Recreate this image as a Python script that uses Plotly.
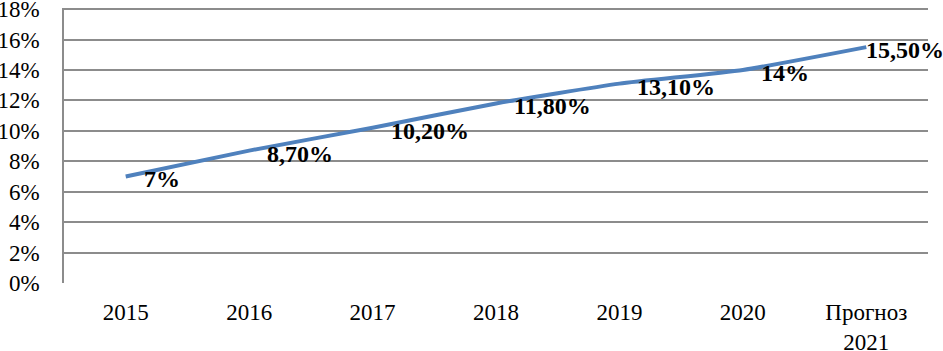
import plotly.graph_objects as go

categories = ["2015", "2016", "2017", "2018", "2019", "2020", "Прогноз<br>2021"]
values = [7, 8.7, 10.2, 11.8, 13.1, 14, 15.5]
value_labels = ["7%", "8,70%", "10,20%", "11,80%", "13,10%", "14%", "15,50%"]
y_ticks = [0, 2, 4, 6, 8, 10, 12, 14, 16, 18]
y_tick_labels = [f"{v}%" for v in y_ticks]

FONT = "Liberation Serif"

fig = go.Figure()
fig.add_trace(go.Scatter(
    x=list(range(len(categories))), y=values, mode="lines",
    line=dict(color="#4F81BD", width=4, shape="spline", smoothing=0.5),
    hoverinfo="skip", showlegend=False, cliponaxis=False,
))

for i, (v, lab) in enumerate(zip(values, value_labels)):
    last = i == len(values) - 1
    fig.add_annotation(
        x=i, y=v, text=f"<b>{lab}</b>", showarrow=False,
        xanchor="left", yanchor="middle",
        xshift=-2 if last else 16, yshift=-3,
        font=dict(family=FONT, size=24, color="black"),
    )

fig.update_layout(
    width=943, height=351,
    margin=dict(l=64, r=15, t=8, b=68, autoexpand=False),
    paper_bgcolor="white", plot_bgcolor="white",
    font=dict(family=FONT, size=23, color="black"),
    xaxis=dict(
        range=[-0.5, 6.5], tickmode="array", automargin=False,
        tickvals=list(range(len(categories))), ticktext=categories,
        showgrid=False, zeroline=False, showline=False,
        ticks="outside", ticklen=8, tickcolor="rgba(0,0,0,0)",
        tickfont=dict(family=FONT, size=23), ticklabeloverflow="allow",
    ),
    yaxis=dict(
        range=[0, 18.07], autorange=False, tickmode="array", automargin=False,
        tickvals=y_ticks, ticktext=y_tick_labels,
        showgrid=True, gridcolor="#8C8C8C", gridwidth=1.5,
        zeroline=False, showline=True, linecolor="#8C8C8C", linewidth=1.5,
        ticks="outside", ticklen=18, tickcolor="rgba(0,0,0,0)",
        tickfont=dict(family=FONT, size=23), ticklabeloverflow="allow",
    ),
)

fig.write_html(
    "out.html",
    config={"displayModeBar": False},
    post_script="document.body.style.margin='0';document.body.style.padding='0';",
)
